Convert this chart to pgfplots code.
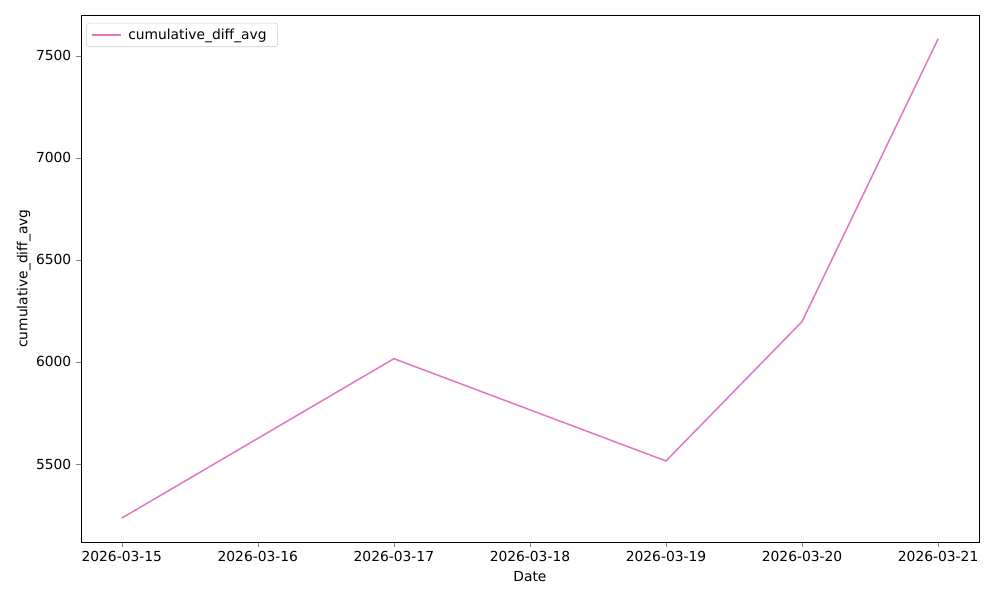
\documentclass[border=0pt]{standalone}
\usepackage{pgfplots}
\pgfplotsset{compat=1.18}
\usepackage{fontspec}
\setmainfont{DejaVu Sans}
\definecolor{tabpink}{HTML}{E377C2}
\begin{document}
\begin{tikzpicture}
\path[use as bounding box] (-58.5pt,-41.9pt) rectangle (664.2pt,391.7pt);
\begin{axis}[
  at={(0,0)}, anchor=south west,
  scale only axis, width=649pt, height=380.9pt,
  xmin=-0.3, xmax=6.3, ymin=5118, ymax=7700,
  xtick={0,1,2,3,4,5,6},
  xticklabels={2026-03-15,2026-03-16,2026-03-17,2026-03-18,2026-03-19,2026-03-20,2026-03-21},
  ytick={5500,6000,6500,7000,7500},
  yticklabel style={/pgf/number format/.cd, 1000 sep={}},
  /pgf/number format/assume math mode=true,
  tick align=outside, tick pos=left,
  major tick length=3.5pt,
  tick label style={font=\fontsize{10}{12}\selectfont},
  label style={font=\fontsize{10}{12}\selectfont},
  xlabel={Date}, ylabel={cumulative\_diff\_avg},
  xlabel style={yshift=0pt},
  ylabel style={yshift=-3pt},
  legend style={at={(0.006,0.985)}, anchor=north west, draw=black!20, rounded corners=2pt, font=\fontsize{10}{12}\selectfont, inner xsep=3pt, inner ysep=2pt, nodes={inner xsep=5pt}},
  legend image code/.code={\draw[#1] (0pt,0pt) -- (21pt,0pt);},
  legend cell align=left,
]
\addplot[color=tabpink, line width=1.1pt] coordinates {
 (0,5235) (2,6016) (4,5515) (5,6198) (6,7583)
};
\addlegendentry{cumulative\_diff\_avg}
\end{axis}
\end{tikzpicture}
\end{document}
